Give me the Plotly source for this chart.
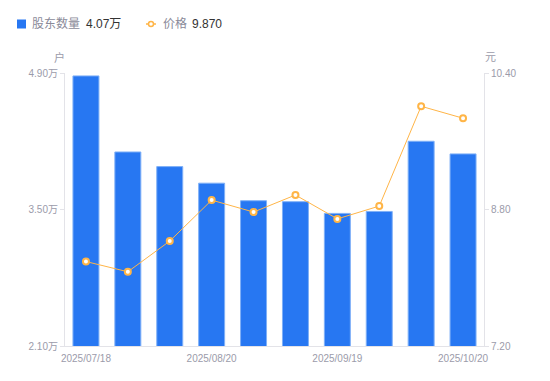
import plotly.graph_objects as go

dates = ["2025/07/18", "2025/07/31", "2025/08/10", "2025/08/20", "2025/08/29",
         "2025/09/10", "2025/09/19", "2025/09/30", "2025/10/10", "2025/10/20"]
holders = [4.87, 4.09, 3.94, 3.77, 3.59, 3.58, 3.46, 3.48, 4.20, 4.07]  # 万户
price = [8.19, 8.07, 8.43, 8.91, 8.77, 8.97, 8.69, 8.84, 10.01, 9.87]
left_ticks = [2.10, 3.50, 4.90]
right_ticks = [7.20, 8.80, 10.40]
x_tick_labels = ["2025/07/18", "2025/08/20", "2025/09/19", "2025/10/20"]

BLUE = "#2777F2"
ORANGE = "#FFB547"
GRAY = "#9B9BAA"
AXIS = "#E3E3E8"
FONT = "Liberation Sans, Arial, Noto Sans CJK SC, sans-serif"

W, H = 550, 381
L, R, T, B = 65, 66, 73, 35
pw, ph = W - L - R, H - T - B

def px(x):
    return (x - L) / pw

def py(y):
    return (H - B - y) / ph

fig = go.Figure()
fig.add_trace(go.Bar(
    x=dates, y=holders, marker=dict(color=BLUE, line=dict(color="#7FB0F7", width=1)),
    yaxis="y", showlegend=False, hoverinfo="skip"))
fig.add_trace(go.Scatter(
    x=dates, y=price, mode="lines+markers", yaxis="y2",
    line=dict(color=ORANGE, width=1),
    marker=dict(symbol="circle", size=6, color="white", line=dict(color=ORANGE, width=2)),
    showlegend=False, hoverinfo="skip", cliponaxis=False))

fig.update_layout(
    width=W, height=H, margin=dict(l=L, r=R, t=T, b=B, autoexpand=False),
    paper_bgcolor="white", plot_bgcolor="white",
    font=dict(family=FONT, color=GRAY, size=10),
    bargap=0.38,
    xaxis=dict(type="category", range=[-0.5, len(dates) - 0.5], autorange=False,
               tickmode="array", tickvals=x_tick_labels, ticktext=x_tick_labels,
               showgrid=False, showline=True, linecolor=AXIS, linewidth=1,
               ticks="outside", ticklen=3, tickcolor="rgba(255,255,255,0)",
               tickfont=dict(size=10, color=GRAY), zeroline=False, automargin=False),
    yaxis=dict(range=[left_ticks[0], left_ticks[-1]], tickmode="array", tickvals=left_ticks,
               ticktext=[f"{v:.2f}万" for v in left_ticks], showgrid=False, zeroline=False,
               showline=True, linecolor=AXIS, linewidth=1, ticks="outside", ticklen=4,
               tickcolor=AXIS, tickfont=dict(size=10, color=GRAY), automargin=False),
    yaxis2=dict(range=[right_ticks[0], right_ticks[-1]], overlaying="y", side="right",
                tickmode="array", tickvals=right_ticks, ticktext=[f"{v:.2f}" for v in right_ticks],
                showgrid=False, zeroline=False, showline=True, linecolor=AXIS, linewidth=1,
                ticks="outside", ticklen=4, tickcolor=AXIS, tickfont=dict(size=10, color=GRAY),
                automargin=False),
)

# axis unit labels
fig.add_annotation(x=px(59), y=py(57), xref="paper", yref="paper", text="户", showarrow=False,
                   font=dict(size=11, color=GRAY), xanchor="center", yanchor="middle")
fig.add_annotation(x=px(490), y=py(57), xref="paper", yref="paper", text="元", showarrow=False,
                   font=dict(size=11, color=GRAY), xanchor="center", yanchor="middle")

# custom legend
ly = py(24)
fig.add_shape(type="rect", xref="paper", yref="paper", x0=px(17), x1=px(26), y0=py(28.5), y1=py(19.5),
              fillcolor=BLUE, line=dict(width=0))
fig.add_annotation(x=px(30), y=ly, xref="paper", yref="paper", showarrow=False, xanchor="left",
                   yanchor="middle", text="股东数量", font=dict(size=12, color="#8A8A99"))
fig.add_annotation(x=px(84), y=ly, xref="paper", yref="paper", showarrow=False, xanchor="left",
                   yanchor="middle", text=f"{holders[-1]:.2f}万", font=dict(size=12, color="#333333"))
fig.add_shape(type="line", xref="paper", yref="paper", x0=px(146), x1=px(156), y0=ly, y1=ly,
              line=dict(color=ORANGE, width=1.5))
fig.add_shape(type="circle", xref="paper", yref="paper", x0=px(148.5), x1=px(153.5), y0=py(26.5), y1=py(21.5),
              fillcolor="white", line=dict(color=ORANGE, width=1.5))
fig.add_annotation(x=px(161), y=ly, xref="paper", yref="paper", showarrow=False, xanchor="left",
                   yanchor="middle", text="价格", font=dict(size=12, color="#8A8A99"))
fig.add_annotation(x=px(190), y=ly, xref="paper", yref="paper", showarrow=False, xanchor="left",
                   yanchor="middle", text=f"{price[-1]:.3f}", font=dict(size=12, color="#333333"))

fig.write_html("out.html", config={"displayModeBar": False},
               post_script="document.body.style.margin='0';")
